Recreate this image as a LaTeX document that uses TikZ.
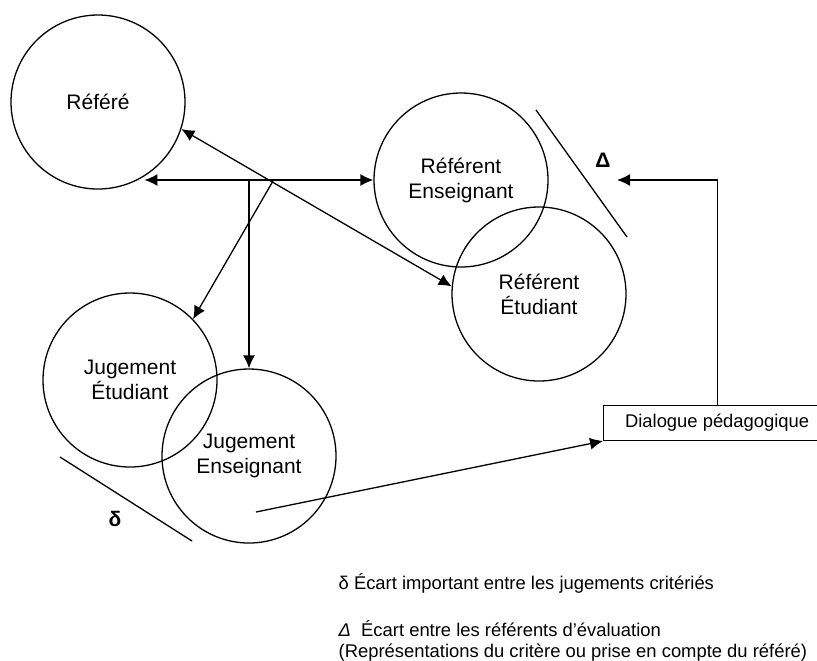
\documentclass[tikz,border=0pt]{standalone}
\usepackage{fontspec}
\setmainfont{Liberation Sans}
\usetikzlibrary{positioning, arrows.meta}

\begin{document}
\begin{tikzpicture}[x=0.5pt, y=-0.5pt, line width=0.65pt,
		bubble/.style={circle, draw, align=center, minimum size=87pt, inner sep=0pt, font=\fontsize{10.5}{12.5}\selectfont},
		arr/.style={-{Latex[length=6.5pt, width=6pt]}},
		darr/.style={{Latex[length=6.5pt, width=6pt]}-{Latex[length=6.5pt, width=6pt]}},
		legend/.style={anchor=west, align=left, inner sep=0pt, font=\fontsize{9.2}{10.2}\selectfont}]
		\useasboundingbox (0,0) rectangle (817,660);

		\node (refere)[bubble] at (98,102) {Référé};
		\node (referentEns)[bubble] at (461,180) {Référent\\Enseignant};
		\node (referentEtu)[bubble] at (539,294) {Référent\\Étudiant};
		\node (jugementEtu)[bubble] at (130,380) {Jugement\\Étudiant};
		\node (jugementEns)[bubble] at (249,456) {Jugement\\Enseignant};
		\node (dialogue)[draw, anchor=south west, minimum width=113.5pt, minimum height=17.5pt, inner sep=0pt, font=\fontsize{9.2}{11}\selectfont] at (603,441) {Dialogue pédagogique};

		\coordinate (hub) at (249,180);
		\coordinate (fork) at (273,181);
		\coordinate (jugStart) at (256,512);
		\coordinate (deltaTip) at (617,180);

		% ecarts
		\draw (536,110) -- (627,237);
		\node (deltaLabel)[font=\bfseries\fontsize{10.5}{12}\selectfont] at (603,160) {Δ};
		\draw (60,457) -- (192,541);
		\node (deltaSmallLabel)[font=\bfseries\fontsize{10.5}{12}\selectfont] at (115,519) {δ};

		\draw[darr] (refere.-58 |- hub) -- (referentEns.west);
		\draw[arr] (hub) -- (jugementEns.north);
		\draw[arr] (fork) -- (jugementEtu.44);
		\draw[darr] (refere.-18) -- (referentEtu.175);
		\draw[arr] (jugStart) -- (dialogue.south west);
		\draw[arr] (dialogue.north) |- (deltaTip);

		\node (legendSmall)[legend] at (338,583) {δ Écart important entre les jugements critériés};
		\node (legendBig)[legend] at (338,641) {\textit{Δ}\ \ Écart entre les référents d’évaluation\\(Représentations du critère ou prise en compte du référé)};
	\end{tikzpicture}
\end{document}
